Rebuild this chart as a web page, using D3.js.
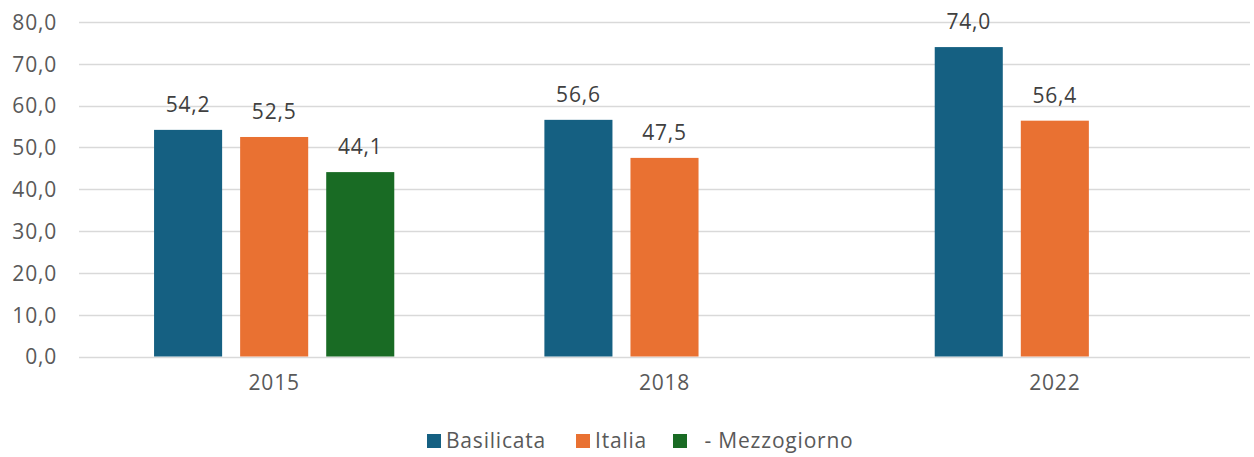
<!DOCTYPE html>
<html><head><meta charset="utf-8">
<script src="https://cdn.jsdelivr.net/npm/d3@7"></script>
<style>body{margin:0;background:#fff}svg{display:block}</style>
</head><body><svg id="c" width="1254" height="457"></svg>
<script>
const categories = ["2015", "2018", "2022"];
const seriesNames = ["Basilicata", "Italia", "Mezzogiorno"];
const legendLabels = ["Basilicata", "Italia", "  - Mezzogiorno"];
const basilicata = [54.2, 56.6, 74.0];
const italia = [52.5, 47.5, 56.4];
const mezzogiorno = [44.1, null, null];
const yTicks = [0, 10, 20, 30, 40, 50, 60, 70, 80];
const colors = ["#156082", "#E97132", "#196B24"];

const values = [basilicata, italia, mezzogiorno];
const svg = d3.select("#c");
const font = "'Open Sans', Inter, sans-serif";
const fs = 21;
const ls = "0.8px";
const fmt = v => d3.format(".1f")(v).replace(".", ",");

const x = d3.scaleBand().domain(categories).range([79, 1250]).padding(0);
const xs = d3.scaleBand().domain(seriesNames).range([0, x.bandwidth()])
  .paddingInner(18/86).paddingOuter(0.872);
const y = d3.scaleLinear().domain([0, 80]).range([356.5, 22]);

// gridlines
svg.append("g").selectAll("line").data(yTicks).join("line")
  .attr("x1", 79).attr("x2", 1250)
  .attr("y1", d => Math.round(y(d)) + 0.5).attr("y2", d => Math.round(y(d)) + 0.5)
  .attr("stroke", "#d9d9d9").attr("stroke-width", 1.3);

// y axis
const yAxis = svg.append("g").attr("transform", "translate(57,0)")
  .call(d3.axisLeft(y).tickValues(yTicks).tickFormat(fmt).tickSize(0).tickPadding(0));
yAxis.select(".domain").remove();
yAxis.selectAll("text").attr("font-family", font).attr("font-size", fs)
  .attr("letter-spacing", ls).attr("fill", "#595959").attr("dy", "0.35em");

// x axis
const xAxis = svg.append("g").attr("transform", "translate(0,356.5)")
  .call(d3.axisBottom(x).tickSize(0).tickPadding(19));
xAxis.select(".domain").remove();
xAxis.selectAll("text").attr("font-family", font).attr("font-size", fs)
  .attr("letter-spacing", ls).attr("fill", "#595959");

// bars
const data = [];
categories.forEach((c, i) => seriesNames.forEach((s, j) => {
  if (values[j][i] != null) data.push({c, s, v: values[j][i], color: colors[j]});
}));
const g = svg.append("g");
g.selectAll("rect").data(data).join("rect")
  .attr("x", d => x(d.c) + xs(d.s)).attr("width", xs.bandwidth())
  .attr("y", d => y(d.v)).attr("height", d => y(0) - y(d.v))
  .attr("fill", d => d.color);
g.selectAll("text").data(data).join("text")
  .attr("x", d => x(d.c) + xs(d.s) + xs.bandwidth()/2)
  .attr("y", d => y(d.v) - 18)
  .attr("text-anchor", "middle").attr("font-family", font).attr("font-size", fs)
  .attr("letter-spacing", ls).attr("fill", "#404040").text(d => fmt(d.v));

// legend
const legX = [427, 576, 673];
const leg = svg.append("g");
seriesNames.forEach((s, j) => {
  leg.append("rect").attr("x", legX[j]).attr("y", 434).attr("width", 14).attr("height", 14).attr("fill", colors[j]);
  leg.append("text").attr("x", legX[j] + 19).attr("y", 448)
    .attr("font-family", font).attr("font-size", fs).attr("letter-spacing", ls).attr("fill", "#595959")
    .attr("xml:space", "preserve").style("white-space", "pre").text(legendLabels[j]);
});
</script></body></html>
